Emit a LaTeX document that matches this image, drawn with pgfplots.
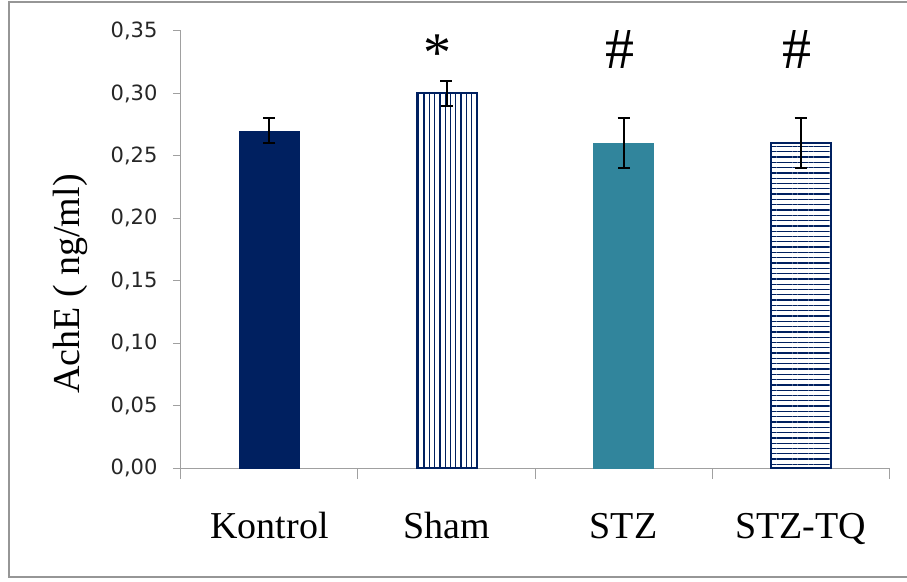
\documentclass[border=0pt]{standalone}
\usepackage{pgfplots}
\pgfplotsset{compat=1.18}
\usepackage{fontspec}
\setmainfont{Liberation Serif}
\newfontfamily\tickfont{DejaVu Sans}
\usetikzlibrary{patterns.meta}
\definecolor{navy}{RGB}{0,32,96}
\definecolor{stzteal}{RGB}{49,133,156}
\definecolor{axgray}{RGB}{160,160,160}
\definecolor{framegray}{RGB}{150,150,150}
\begin{document}
\begin{tikzpicture}
\useasboundingbox (-181pt,-113pt) rectangle (726pt,468pt);
\draw[framegray, line width=1.3pt] (-172pt,-109pt) rectangle (740pt,466pt);
\begin{axis}[
  at={(0pt,0pt)}, anchor=south west,
  scale only axis, width=708pt, height=437pt,
  xmin=-0.5, xmax=3.5, ymin=0, ymax=0.35,
  axis x line*=bottom, axis y line*=left,
  axis line style={axgray, line width=1pt},
  tick align=outside,
  major tick length=8pt,
  ytick={0,0.05,0.10,0.15,0.20,0.25,0.30,0.35},
  ytick style={axgray, line width=1pt},
  /pgf/number format/.cd, fixed, fixed zerofill, precision=2, use comma, assume math mode=true, /pgfplots/.cd,
  yticklabel style={font=\tickfont\fontsize{21}{25}\selectfont, text=black!85, xshift=-12pt},
  xtick={0,1,2,3},
  xticklabels={Kontrol,Sham,STZ,STZ-TQ},
  xtick style={draw=none},
  xticklabel style={font=\fontsize{38}{44}\selectfont, anchor=base, yshift=-62pt},
  extra x ticks={-0.5,0.5,1.5,2.5,3.5},
  extra x tick labels={},
  extra x tick style={xtick style={draw=axgray, line width=1pt}, major tick length=11pt},
  ylabel={AchE ( ng/ml)},
  ylabel style={font=\fontsize{38}{44}\selectfont, at={(rel axis cs:0,0.421)}, anchor=base, yshift=101pt},
  ybar, bar width=60pt, bar shift=0pt,
]
\addplot[fill=navy, draw=navy, error bars/.cd, y dir=both, y explicit,
  error bar style={black, line width=2pt}, error mark options={rotate=90, black, mark size=6pt, line width=2pt}]
  coordinates {(0,0.27) +- (0,0.01)};
\addplot[draw=navy, line width=2pt, pattern={Lines[angle=90, distance=5.3pt, line width=1.3pt]}, pattern color=navy, error bars/.cd, y dir=both, y explicit,
  error bar style={black, line width=2pt}, error mark options={rotate=90, black, mark size=6pt, line width=2pt}]
  coordinates {(1,0.30) +- (0,0.01)};
\addplot[fill=stzteal, draw=stzteal, error bars/.cd, y dir=both, y explicit,
  error bar style={black, line width=2pt}, error mark options={rotate=90, black, mark size=6pt, line width=2pt}]
  coordinates {(2,0.26) +- (0,0.02)};
\addplot[draw=navy, line width=2pt, pattern={Lines[angle=0, distance=5.3pt, line width=1.3pt]}, pattern color=navy, error bars/.cd, y dir=both, y explicit,
  error bar style={black, line width=2pt}, error mark options={rotate=90, black, mark size=6pt, line width=2pt}]
  coordinates {(3,0.26) +- (0,0.02)};
\node[font=\fontsize{56}{56}\selectfont] at (axis cs:0.95,0.332) {*};
\node[font=\fontsize{58}{58}\selectfont] at (axis cs:1.98,0.335) {\#};
\node[font=\fontsize{58}{58}\selectfont] at (axis cs:2.98,0.335) {\#};
\end{axis}
\end{tikzpicture}
\end{document}
